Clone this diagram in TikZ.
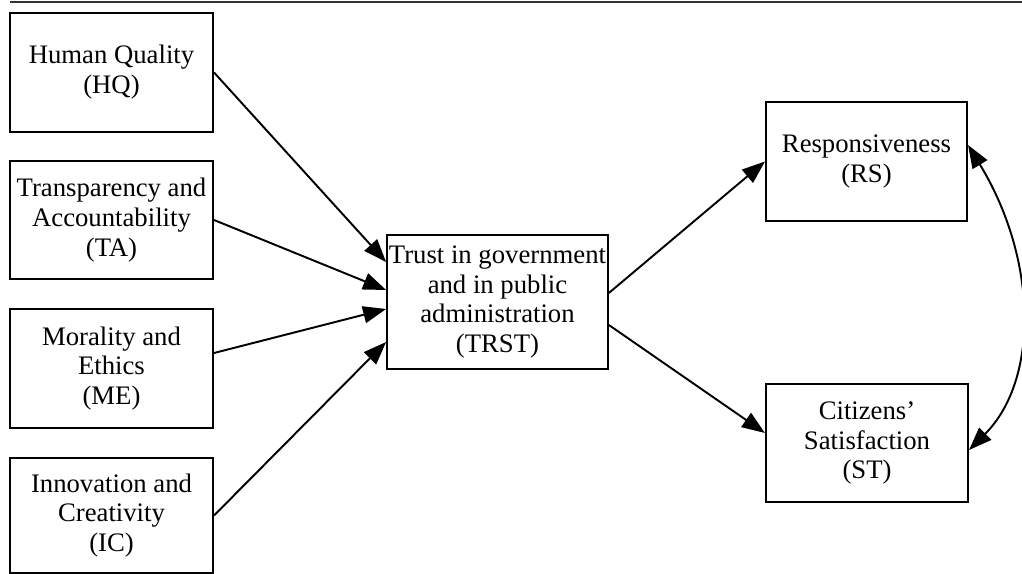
\documentclass[tikz,border=0pt]{standalone}
\usepackage{fontspec}
\setmainfont{Liberation Serif}
\usetikzlibrary{arrows.meta}
\begin{document}
\begin{tikzpicture}[x=0.02cm, y=-0.02cm,
  every node/.style={font=\fontsize{15.2}{17}\selectfont},
  >={Triangle[length=0.46cm, width=0.34cm]},
  box/.style={draw, line width=1.2pt, align=center, inner sep=1pt, minimum width=4.06cm, minimum height=2.38cm},
  arr/.style={line width=1.1pt, ->}]
\useasboundingbox (0,0) rectangle (1022,574);
\draw[line width=1.2pt, black!80] (10,2) -- (1022,2);
% left column
\node[box] (hq) at (111.5,72.5) {Human Quality\\(HQ)};
\node[box, minimum height=2.36cm] (ta) at (111.5,220) {Transparency and\\Accountability\\(TA)};
\node[box] (me) at (111.5,368.5) {Morality and\\Ethics\\(ME)};
\node[box, minimum height=2.3cm] (ic) at (111.5,515.5) {Innovation and\\Creativity\\(IC)};
% centre and right
\node[box, minimum width=4.38cm, minimum height=2.68cm] (trst) at (497.5,302) {Trust in government\\and in public\\administration\\(TRST)};
\node[box, minimum width=4.02cm] (rs) at (866.5,161.5) {Responsiveness\\(RS)};
\node[box, minimum width=4.04cm, minimum height=2.36cm] (st) at (867,443) {Citizens'\\Satisfaction\\(ST)};
\draw[arr] (hq.east) -- ([yshift=0.8cm]trst.west);
\draw[arr] (ta.east) -- ([yshift=0.24cm]trst.west);
\draw[arr] ([yshift=0.31cm]me.east) -- ([yshift=-0.14cm]trst.west);
\draw[arr] (ic.east) -- ([yshift=-0.8cm]trst.west);
\draw[arr] ([yshift=0.18cm]trst.east) -- (rs.west);
\draw[arr] ([yshift=-0.46cm]trst.east) -- ([yshift=0.2cm]st.west);
\draw[line width=1.1pt, <->] ([yshift=0.33cm]rs.east) .. controls +(70,115) and +(70,-70) .. ([yshift=-0.14cm]st.east);
\end{tikzpicture}
\end{document}
